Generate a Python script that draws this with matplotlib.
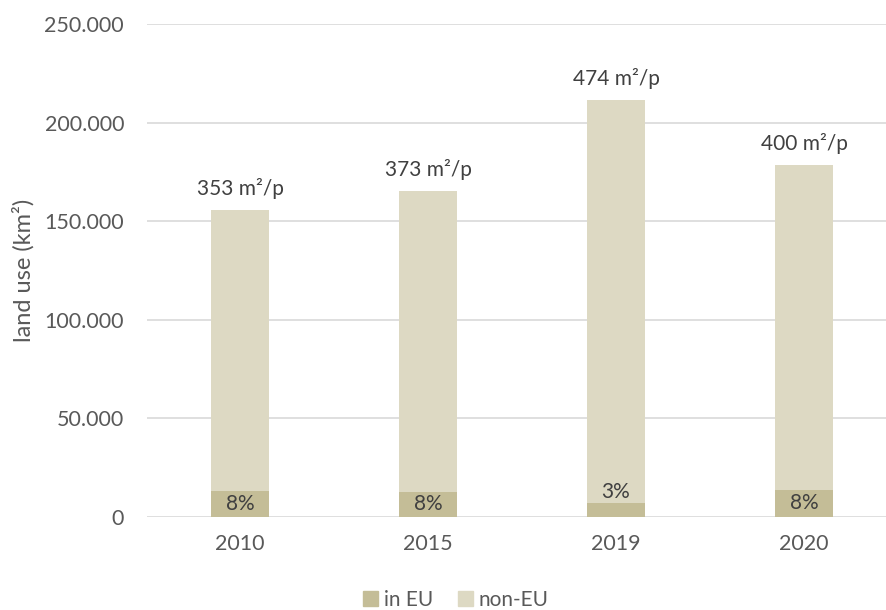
import matplotlib
matplotlib.use("Agg")
import matplotlib.pyplot as plt
from matplotlib.patches import Patch

years = ["2010", "2015", "2019", "2020"]
total = [155500, 165300, 211500, 178300]
in_eu = [13200, 12700, 7100, 13700]
non_eu = [t - e for t, e in zip(total, in_eu)]
pct_labels = ["8%", "8%", "3%", "8%"]
top_labels = ["353 m²/p", "373 m²/p", "474 m²/p", "400 m²/p"]
yticks = [0, 50000, 100000, 150000, 200000, 250000]
ytick_labels = ["0", "50.000", "100.000", "150.000", "200.000", "250.000"]

c_eu = "#C4BD97"
c_non = "#DDD9C3"
txt = "#404040"
tick_c = "#595959"

plt.rcParams["font.family"] = ["Lato", "DejaVu Sans"]

fig = plt.figure(figsize=(8.86, 6.10), dpi=100)
ax = fig.add_axes([147/886, 1-517/610, 1-147/886, 493/610])

x = list(range(len(years)))
w = 0.312
ax.bar(x, in_eu, width=w, color=c_eu, zorder=3)
ax.bar(x, non_eu, width=w, bottom=in_eu, color=c_non, zorder=3)

for i in x:
    if in_eu[i] < 10000:
        ax.annotate(pct_labels[i], (i, in_eu[i]), xytext=(0, 1), textcoords="offset points",
                    ha="center", va="bottom", fontsize=15, color=txt, zorder=4)
    else:
        ax.text(i, in_eu[i] / 2, pct_labels[i], ha="center", va="center",
                fontsize=15, color=txt, zorder=4)
    ax.annotate(top_labels[i], (i, total[i]), xytext=(0, 8), textcoords="offset points",
                ha="center", va="bottom", fontsize=15, color=txt)

ax.set_xlim(-0.495, (886-240)/188)
ax.set_ylim(0, 250000)
ax.set_yticks(yticks)
ax.set_yticklabels(ytick_labels)
ax.set_xticks(x)
ax.set_xticklabels(years)
ax.tick_params(axis="both", length=0, labelsize=15.5, colors=tick_c)
ax.tick_params(axis="y", pad=16.5)
ax.tick_params(axis="x", pad=12)
ax.grid(axis="y", color="#D9D9D9", linewidth=1.2, zorder=0)
for s in ax.spines.values():
    s.set_visible(False)
ax.set_ylabel("land use (km²)", fontsize=17, color=tick_c)
ax.yaxis.set_label_coords((23 - 147) / 739, 0.5)
ax.yaxis.label.set_va("center")

handles = [Patch(color=c_eu, label="in EU"), Patch(color=c_non, label="non-EU")]
fig.legend(handles=handles, loc="center", bbox_to_anchor=(456/886, 1-600/610), ncol=2,
           frameon=False, fontsize=15, handlelength=0.7, handleheight=0.7,
           handletextpad=0.3, columnspacing=1.2, labelcolor=tick_c)

fig.savefig("out.png", dpi=100)
